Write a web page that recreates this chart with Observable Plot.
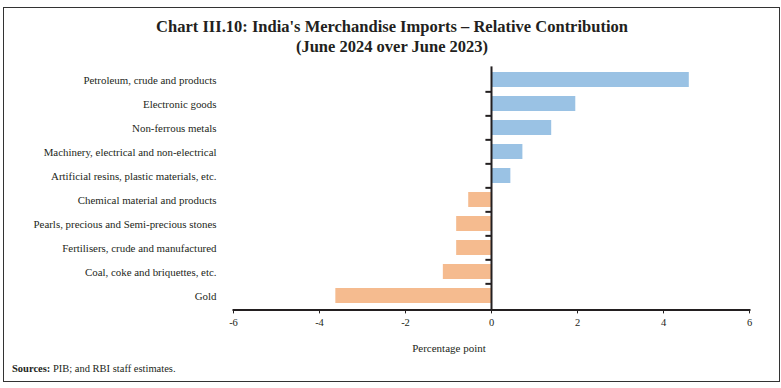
<!DOCTYPE html>
<html><head><meta charset="utf-8">
<script src="https://cdn.jsdelivr.net/npm/d3@7"></script>
<script src="https://cdn.jsdelivr.net/npm/@observablehq/plot@0.6"></script>
<style>
body{margin:0;background:#fff;}
#wrap{position:relative;width:781px;height:388px;font-family:"Liberation Serif",serif;color:#231f20;overflow:hidden;}
#frame{position:absolute;left:3px;top:7px;width:777px;height:375px;border:1.5px solid #333;box-sizing:border-box;pointer-events:none;}
#title{position:absolute;left:0;width:784px;top:17px;text-align:center;font-weight:bold;font-size:16.5px;line-height:20px;}
#xlabel{position:absolute;left:349px;width:200px;top:342px;text-align:center;font-size:11px;}
#src{position:absolute;left:12px;top:363px;font-size:10.5px;}
#chart{position:absolute;left:0;top:0;}
</style></head>
<body>
<div id="wrap">
  <div id="chart"></div>
  <div id="title">Chart III.10: India's Merchandise Imports – Relative Contribution<br>(June 2024 over June 2023)</div>
  <div id="xlabel">Percentage point</div>
  <div id="src"><b>Sources:</b> PIB; and RBI staff estimates.</div>
  <div id="frame"></div>
</div>
<script>
const categories = [
  "Petroleum, crude and products",
  "Electronic goods",
  "Non-ferrous metals",
  "Machinery, electrical and non-electrical",
  "Artificial resins, plastic materials, etc.",
  "Chemical material and products",
  "Pearls, precious and Semi-precious stones",
  "Fertilisers, crude and manufactured",
  "Coal, coke and briquettes, etc.",
  "Gold"
];
const values = [4.60, 1.96, 1.40, 0.73, 0.45, -0.53, -0.81, -0.81, -1.12, -3.62];
const xTicks = [-6, -4, -2, 0, 2, 4, 6];

const blue = "#9ac2e4";
const orange = "#f5bb8f";
const ink = "#231f20";

const data = categories.map((c, i) => ({category: c, value: values[i]}));

const W = 781, H = 388, mT = 66.4, mB = 78.6;
const step = (H - mT - mB) / categories.length;

const chart = Plot.plot({
  width: W, height: H,
  marginLeft: 233, marginRight: 32, marginTop: mT, marginBottom: mB,
  style: {fontFamily: "Liberation Serif", fontSize: "10px", color: ink, background: "transparent"},
  x: {domain: [-6, 6]},
  y: {domain: categories, paddingInner: 0.36, paddingOuter: 0.18},
  marks: [
    Plot.barX(data, {x: "value", y: "category", fill: d => d.value >= 0 ? blue : orange}),
    Plot.axisY({tickSize: 0, tickPadding: 17, fontSize: 10.9, label: null}),
    Plot.axisX({ticks: xTicks, tickSize: 4, tickPadding: 5, tickFormat: d => String(d), fontSize: 10.5, label: null, stroke: ink}),
    Plot.frame({anchor: "bottom", stroke: ink, strokeWidth: 2}),
    Plot.ruleX([0], {stroke: ink, strokeWidth: 2}),
    Plot.ruleY(categories.slice(1), {y: d => d, x1: -0.13, x2: 0, dy: -step / 2, stroke: ink, strokeWidth: 2})
  ]
});
document.getElementById("chart").appendChild(chart);
</script>
</body></html>
